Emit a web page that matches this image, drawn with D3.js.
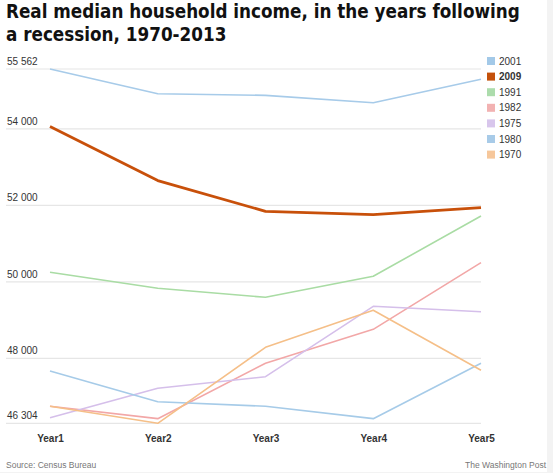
<!DOCTYPE html>
<html>
<head>
<meta charset="utf-8">
<script src="https://cdn.jsdelivr.net/npm/d3@7"></script>
<style>
  body { margin: 0; background: #fff; }
  svg { display: block; font-family: "Liberation Sans", Arial, sans-serif; }
</style>
</head>
<body>
<div id="chart"></div>
<script>
// categories along the x axis
var years = ["Year1", "Year2", "Year3", "Year4", "Year5"]

// income per recession (2013 dollars)
var s2001 = [55562, 54917, 54874, 54682, 55293]
var s2009 = [54059, 52646, 51842, 51759, 51939]
var s1991 = [50250, 49831, 49596, 50145, 51721]
var s1982 = [46748, 46425, 47872, 48760, 50501]
var s1975 = [46451, 47218, 47522, 49361, 49220]
var s1980 = [47671, 46869, 46748, 46425, 47872]
var s1970 = [46748, 46304, 48290, 49257, 47689]

// y tick labels
var yTicks = [46304, 48000, 50000, 52000, 54000, 55562]

var legendNames = ["2001", "2009", "1991", "1982", "1975", "1980", "1970"]

var width = 553
var height = 473

var series = [
  {name: "2001", values: s2001, color: "#a3c9e8", line: "#a7cbe9", w: 1.6},
  {name: "2009", values: s2009, color: "#c4510b", line: "#c8500a", w: 2.8},
  {name: "1991", values: s1991, color: "#acdcac", line: "#a9dca4", w: 1.6},
  {name: "1982", values: s1982, color: "#f2b2b2", line: "#f2a7a7", w: 1.6},
  {name: "1975", values: s1975, color: "#d8c6ec", line: "#d5bfea", w: 1.6},
  {name: "1980", values: s1980, color: "#a8cbe8", line: "#a6cbe8", w: 1.6},
  {name: "1970", values: s1970, color: "#f6c79b", line: "#f5bf88", w: 1.6}
]

var svg = d3.select("#chart")
  .append("svg")
  .attr("width", width)
  .attr("height", height)

// faint frame strips on the right and bottom edge
svg.append("rect").attr("x", 547).attr("y", 0).attr("width", 6).attr("height", height).attr("fill", "#f3f3f3")
svg.append("rect").attr("x", 0).attr("y", 472).attr("width", width).attr("height", 1).attr("fill", "#f3f3f3")

// title, squeezed to the width of the original
var title = svg.append("g")
  .style("font-family", "'DejaVu Sans', 'Liberation Sans', sans-serif")
var t1 = title.append("text")
  .attr("x", 6).attr("y", 18)
  .style("font-size", "19.5px").style("font-weight", "bold").attr("fill", "#111")
  .text("Real median household income, in the years following")
title.append("text")
  .attr("x", 6).attr("y", 41)
  .style("font-size", "19.5px").style("font-weight", "bold").attr("fill", "#111")
  .text("a recession, 1970-2013")
var tw = t1.node().getComputedTextLength()
var k = 514 / tw
title.attr("transform", "translate(" + (6 - 6 * k) + ",0) scale(" + k + ",1)")

var x = d3.scalePoint()
  .domain(years)
  .range([50, 481])

var y = d3.scaleLinear()
  .domain([46304, 55562])
  .range([423.3, 69])

var fmt = function(v) { return d3.format(",")(v).replace(",", " ") }

// gridlines + labels
var grid = svg.append("g")
grid.selectAll("line")
  .data(yTicks)
  .join("line")
    .attr("x1", 6)
    .attr("x2", 481)
    .attr("y1", d => y(d))
    .attr("y2", d => y(d))
    .attr("stroke", "#e6e6e6")
    .attr("stroke-width", 1.2)

grid.selectAll("text")
  .data(yTicks)
  .join("text")
    .attr("x", 7)
    .attr("y", d => y(d) - 4)
    .style("font-size", "10px")
    .attr("fill", "#333")
    .text(fmt)

// x axis labels
var xAxis = svg.append("g")
  .attr("transform", "translate(0,442)")
  .call(d3.axisBottom(x).tickSize(0).tickPadding(0))
xAxis.select(".domain").remove()
xAxis.selectAll("text")
  .attr("y", 0).attr("dy", 0)
  .style("font-size", "10px")
  .style("font-weight", "bold")
  .style("font-family", "'Liberation Sans', Arial, sans-serif")
  .attr("fill", "#333")

var line = d3.line()
  .x((d, i) => x(years[i]))
  .y(d => y(d))

// draw the 2009 line last so it sits on top
var order = series.filter(s => s.name != "2009").concat(series.filter(s => s.name == "2009"))
svg.append("g")
  .selectAll("path")
  .data(order)
  .join("path")
    .attr("d", d => line(d.values))
    .attr("fill", "none")
    .attr("stroke", d => d.line)
    .attr("stroke-width", d => d.w)
    .attr("stroke-linejoin", "round")

// legend
var legend = svg.append("g")
  .selectAll("g")
  .data(legendNames)
  .join("g")
    .attr("transform", (d, i) => "translate(487," + (61 + i * 15.6) + ")")

legend.append("rect")
  .attr("x", 0).attr("y", -4)
  .attr("width", 8).attr("height", 8)
  .attr("fill", d => series.find(s => s.name == d).color)

legend.append("text")
  .attr("x", 12).attr("y", 3.5)
  .style("font-size", "10px")
  .style("font-weight", d => d == "2009" ? "bold" : "normal")
  .attr("fill", "#333")
  .text(d => d)

// footer
svg.append("text")
  .attr("x", 6).attr("y", 468)
  .style("font-size", "8.5px").attr("fill", "#777")
  .text("Source: Census Bureau")
svg.append("text")
  .attr("x", 546).attr("y", 468)
  .attr("text-anchor", "end")
  .style("font-size", "8.5px").attr("fill", "#777")
  .text("The Washington Post")
</script>
</body>
</html>
